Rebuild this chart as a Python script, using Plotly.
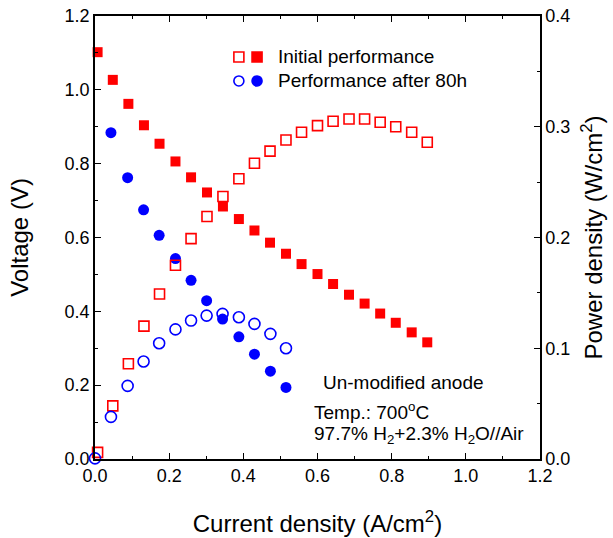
import plotly.graph_objects as go

# Initial performance
cur_init = [0.007, 0.048, 0.090, 0.132, 0.174, 0.217, 0.259, 0.302, 0.345, 0.388, 0.430,
            0.472, 0.515, 0.557, 0.600, 0.642, 0.685, 0.727, 0.769, 0.811, 0.854, 0.896]
volt_init = [1.102, 1.027, 0.962, 0.904, 0.854, 0.806, 0.763, 0.722, 0.684, 0.650, 0.619,
             0.586, 0.556, 0.528, 0.501, 0.474, 0.445, 0.421, 0.394, 0.369, 0.343, 0.316]
pow_init = [0.006, 0.048, 0.086, 0.120, 0.149, 0.175, 0.199, 0.219, 0.237, 0.253, 0.267,
            0.278, 0.288, 0.295, 0.301, 0.305, 0.307, 0.307, 0.304, 0.300, 0.295, 0.286]

# Performance after 80h
cur_80v = [0.043, 0.088, 0.131, 0.173, 0.217, 0.259, 0.301, 0.344, 0.388, 0.430, 0.473, 0.515]
volt_80 = [0.884, 0.762, 0.675, 0.606, 0.543, 0.484, 0.429, 0.379, 0.331, 0.284, 0.238, 0.194]
cur_80p = [0.0, 0.043, 0.088, 0.131, 0.173, 0.217, 0.259, 0.301, 0.344, 0.388, 0.430, 0.473, 0.515]
pow_80 = [0.0006, 0.038, 0.066, 0.088, 0.1045, 0.117, 0.125, 0.1295, 0.131, 0.128, 0.122, 0.113, 0.100]

x_ticks = [0.0, 0.2, 0.4, 0.6, 0.8, 1.0, 1.2]
legend_labels = ["Initial performance", "Performance after 80h"]

RED = "#FF0000"
BLUE = "#0000FF"
FONT = "Liberation Sans, Arial, sans-serif"

fig = go.Figure()
fig.add_trace(go.Scatter(x=cur_init, y=volt_init, mode="markers", yaxis="y",
                         marker=dict(symbol="square", size=10, color=RED, line=dict(width=0)),
                         cliponaxis=False, showlegend=False))
fig.add_trace(go.Scatter(x=cur_init, y=pow_init, mode="markers", yaxis="y2",
                         marker=dict(symbol="square-open", size=10, color=RED, line=dict(width=1.6)),
                         cliponaxis=False, showlegend=False))
fig.add_trace(go.Scatter(x=cur_80v, y=volt_80, mode="markers", yaxis="y",
                         marker=dict(symbol="circle", size=11, color=BLUE, line=dict(width=0)),
                         cliponaxis=False, showlegend=False))
fig.add_trace(go.Scatter(x=cur_80p, y=pow_80, mode="markers", yaxis="y2",
                         marker=dict(symbol="circle-open", size=11, color=BLUE, line=dict(width=1.6)),
                         cliponaxis=False, showlegend=False))

axis_common = dict(showline=True, linecolor="black", linewidth=1.5, ticks="inside",
                   ticklen=6, tickwidth=1.3, tickcolor="black", showgrid=False, zeroline=False,
                   automargin=False,
                   tickfont=dict(family=FONT, size=18, color="black"), tickformat=".1f")

fig.update_layout(
    width=613, height=538,
    margin=dict(l=95, r=73, t=16, b=79),
    paper_bgcolor="white", plot_bgcolor="white",
    font=dict(family=FONT, color="black"),
    xaxis=dict(range=[0, 1.2], tickvals=x_ticks, mirror="ticks",
               minor=dict(dtick=0.1, ticks="inside", ticklen=3, tickcolor="black", tickwidth=1.3),
               title=dict(text="Current density (A/cm<sup>2</sup>)",
                          font=dict(family=FONT, size=24, color="black"), standoff=30),
               **axis_common),
    yaxis=dict(range=[0, 1.2], dtick=0.2, tick0=0,
               minor=dict(dtick=0.1, ticks="inside", ticklen=3, tickcolor="black", tickwidth=1.3),
               title=dict(text="Voltage (V)", font=dict(family=FONT, size=24, color="black"),
                          standoff=29),
               **axis_common),
    yaxis2=dict(range=[0, 0.4], dtick=0.1, tick0=0, overlaying="y", side="right",
                minor=dict(dtick=0.05, ticks="inside", ticklen=3, tickcolor="black", tickwidth=1.3),
                title=dict(text="Power density (W/cm<sup>2</sup>)",
                           font=dict(family=FONT, size=24, color="black"), standoff=16),
                **axis_common),
)

# Legend drawn manually (two symbols per entry)
leg_rows = [(1.089, "square", RED), (1.024, "circle", BLUE)]
for (yv, shp, col), label in zip(leg_rows, legend_labels):
    for xv, filled in [(0.388, False), (0.437, True)]:
        kind = "rect" if shp == "square" else "circle"
        fig.add_shape(type=kind, xref="x", yref="y", xsizemode="pixel", ysizemode="pixel",
                      xanchor=xv, yanchor=yv, x0=-5, x1=5, y0=-5, y1=5,
                      line=dict(color=col, width=1.6),
                      fillcolor=col if filled else "rgba(0,0,0,0)")
    fig.add_annotation(x=0.488, y=yv, xref="x", yref="y", text=label, showarrow=False,
                       xanchor="left", yanchor="middle",
                       font=dict(family=FONT, size=19, color="black"))

notes = [(0.610, 0.208, "Un-modified anode"),
         (0.585, 0.130, "Temp.: 700<sup>o</sup>C"),
         (0.585, 0.066, "97.7% H<sub>2</sub>+2.3% H<sub>2</sub>O//Air")]
for xv, yv, txt in notes:
    fig.add_annotation(x=xv, y=yv, xref="x", yref="y", text=txt, showarrow=False,
                       xanchor="left", yanchor="middle",
                       font=dict(family=FONT, size=19, color="black"))

fig.write_html("out.html", config={"displayModeBar": False},
               post_script="document.body.style.margin='0';")
